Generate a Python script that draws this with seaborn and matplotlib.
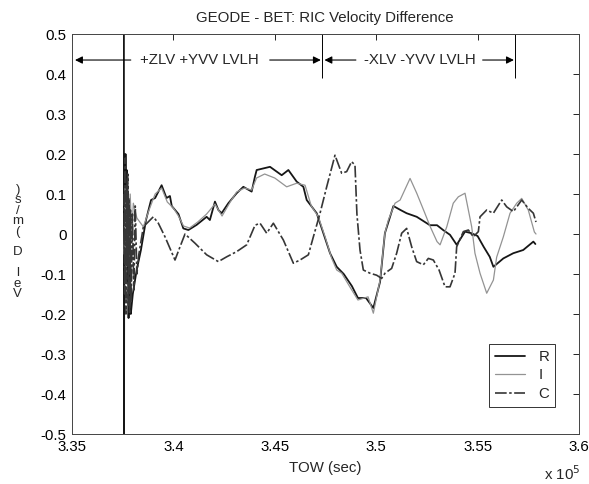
import numpy as np
import pandas as pd
import matplotlib
matplotlib.use('Agg')
import matplotlib.pyplot as plt
import seaborn as sns

# GPS time of week (sec) and RIC velocity differences (m/s)
r_tow = [337560, 337563, 337580, 337610, 337640, 337670, 337700, 337730, 337760, 337790,
         337820, 337850, 337900, 338000, 338190, 338400, 338650, 338900, 339100, 339420,
         339660, 339830, 339920, 340250, 340490, 340740, 341150, 341640, 341800, 342050,
         342220, 342380, 342710, 343120, 343450, 343860, 344020, 344107, 344765, 345341,
         345670, 346080, 346410, 346574, 347067, 347396, 347725, 348054, 348400, 348800,
         349100, 349500, 349860, 350190, 350430, 350850, 351200, 351500, 352000, 352650,
         353000, 353300, 353640, 353970, 354380, 354700, 355000, 355300, 355600, 355780,
         356270, 356760, 357250, 357750, 357850]
r_vel = [0.7, -0.7, 0.18, -0.10, 0.20, -0.02, 0.16, -0.12, 0.10, -0.21,
         0.05, -0.19, -0.20, -0.15, -0.09, -0.04, 0.035, 0.085, 0.09, 0.122,
         0.09, 0.095, 0.07, 0.05, 0.014, 0.01, 0.023, 0.043, 0.035, 0.081,
         0.06, 0.052, 0.077, 0.102, 0.118, 0.106, 0.143, 0.16, 0.168, 0.147,
         0.16, 0.131, 0.118, 0.085, 0.052, 0.002, -0.048, -0.082, -0.10, -0.13,
         -0.16, -0.16, -0.185, -0.12, 0.002, 0.07, 0.06, 0.052, 0.043, 0.022,
         0.022, 0.01, -0.002, -0.027, 0.006, 0.002, -0.005, -0.032, -0.057, -0.082,
         -0.061, -0.048, -0.04, -0.019, -0.025]

i_tow = [337570, 337620, 337680, 337740, 337800, 337870, 337950, 338025, 338200, 338520,
         338800, 339100, 339420, 339700, 340000, 340250, 340500, 340800, 341200, 341640,
         342050, 342400, 342800, 343120, 343500, 343860, 344100, 344500, 345000, 345587,
         346080, 346492, 346800, 347150, 347500, 347800, 348054, 348300, 348700, 349100,
         349600, 349860, 350190, 350430, 350600, 350930, 351180, 351670, 352000, 352400,
         352650, 353000, 353150, 353480, 353800, 354050, 354380, 354545, 354710, 354870,
         355120, 355450, 355780, 355940, 356270, 356600, 356930, 357175, 357500, 357800,
         357880]
i_vel = [-0.05, 0.12, -0.10, 0.14, -0.08, 0.10, 0.0, 0.077, 0.04, 0.018,
         0.06, 0.10, 0.115, 0.08, 0.065, 0.045, 0.02, 0.015, 0.03, 0.05,
         0.075, 0.045, 0.08, 0.105, 0.115, 0.11, 0.14, 0.15, 0.14, 0.118,
         0.127, 0.122, 0.07, 0.043, -0.01, -0.06, -0.09, -0.098, -0.132, -0.165,
         -0.157, -0.198, -0.115, 0.002, 0.035, 0.077, 0.085, 0.139, 0.102, 0.052,
         0.02, -0.019, -0.027, 0.018, 0.077, 0.093, 0.102, 0.06, 0.018, -0.048,
         -0.098, -0.148, -0.115, -0.058, -0.007, 0.052, 0.077, 0.089, 0.06, 0.005,
         0.0]

c_tow = [337570, 337600, 337630, 337660, 337690, 337720, 337750, 337780, 337810, 337840,
         337880, 337920, 337980, 338050, 338120, 338200, 338300, 338520, 339010, 339258,
         339587, 340080, 340327, 340573, 341066, 341641, 342217, 342628, 343122, 343615,
         344026, 344272, 344601, 344930, 345176, 345423, 345916, 346245, 346656, 346903,
         347232, 347560, 347969, 348297, 348544, 348790, 348955, 349050, 349202, 349366,
         349695, 350024, 350270, 350435, 350763, 351010, 351257, 351503, 351750, 351996,
         352325, 352572, 352818, 353100, 353394, 353640, 353887, 353969, 354298, 354545,
         354791, 355038, 355120, 355449, 355778, 356189, 356435, 356764, 357175, 357504,
         357750, 357880]
c_vel = [0.10, -0.15, 0.19, -0.20, 0.12, -0.08, 0.15, -0.18, 0.09, -0.20,
         0.06, -0.17, 0.05, -0.14, 0.07, -0.10, -0.05, 0.018, 0.043, 0.027,
         -0.007, -0.065, -0.032, 0.0, -0.023, -0.052, -0.069, -0.057, -0.044, -0.027,
         0.022, 0.027, 0.002, 0.027, 0.006, -0.015, -0.073, -0.065, -0.052, -0.007,
         0.052, 0.118, 0.197, 0.152, 0.156, 0.181, 0.172, 0.05, -0.04, -0.09,
         -0.098, -0.103, -0.111, -0.098, -0.086, -0.048, 0.002, 0.014, -0.032, -0.069,
         -0.077, -0.061, -0.065, -0.09, -0.132, -0.132, -0.098, -0.032, 0.006, 0.01,
         -0.007, 0.006, 0.043, 0.06, 0.052, 0.085, 0.068, 0.056, 0.085, 0.064,
         0.052, 0.03]

# attitude mode changes (TOW)
mode_bounds = [335000, 347330, 356850]
mode_names = ['+ZLV +YVV LVLH', '-XLV -YVV LVLH']

xticks = [335000, 340000, 345000, 350000, 355000, 360000]
xticklabels = ['3.35', '3.4', '3.45', '3.5', '3.55', '3.6']
yticks = [0.5, 0.4, 0.3, 0.2, 0.1, 0, -0.1, -0.2, -0.3, -0.4, -0.5]
yticklabels = ['0.5', '0.4', '0.3', '0.2', '0.1', '0', '-0.1', '-0.2', '-0.3', '-0.4', '-0.5']

sns.set_style('white')
plt.rcParams['font.family'] = ['Liberation Sans', 'DejaVu Sans']
fs = 10.8

fig = plt.figure(figsize=(5.89, 4.84), dpi=100)
ax = fig.add_axes([0.1222, 0.1033, 0.8608, 0.8264])

series = [('R', r_tow, r_vel, '#161616', 1.3, '-'),
          ('I', i_tow, i_vel, '#939393', 0.9, '-'),
          ('C', c_tow, c_vel, '#363636', 1.2, (0, (7, 1.5, 1.5, 1.5)))]
for name, tow, vel, col, lw, ls in series:
    df = pd.DataFrame({'tow': tow, 'vel': vel})
    sns.lineplot(data=df, x='tow', y='vel', ax=ax, color=col, lw=lw, linestyle=ls,
                 estimator=None, sort=False, label=name)

ax.set_xlim(335000, 360000)
ax.set_ylim(-0.5, 0.5)
ax.set_xticks(xticks)
ax.set_xticklabels(xticklabels, fontsize=fs)
ax.set_yticks(yticks)
ax.set_yticklabels(yticklabels, fontsize=fs)
ax.tick_params(direction='in', length=4, width=0.6, top=True, right=True, pad=4, colors='k')
for sp in ax.spines.values():
    sp.set_color('#444444')
    sp.set_linewidth(0.7)
ax.set_xlabel('')
ax.set_ylabel('')

# mode annotations
ax.vlines(mode_bounds[1:], 0.39, 0.5, color='k', lw=0.7)
arrow = dict(arrowstyle='-|>', color='k', lw=0.8, mutation_scale=11, shrinkA=0, shrinkB=0)
ay = 0.435
ax.annotate('', xy=(335150, ay), xytext=(337900, ay), arrowprops=arrow)
ax.annotate('', xy=(mode_bounds[1] - 60, ay), xytext=(344750, ay), arrowprops=arrow)
ax.annotate('', xy=(mode_bounds[1] + 120, ay), xytext=(349000, ay), arrowprops=arrow)
ax.annotate('', xy=(mode_bounds[2] - 60, ay), xytext=(355250, ay), arrowprops=arrow)
ax.text(341262, ay, mode_names[0], ha='center', va='center', fontsize=fs)
ax.text(352160, ay, mode_names[1], ha='center', va='center', fontsize=fs)

leg = ax.legend(loc='lower right', bbox_to_anchor=(0.953, 0.068), borderaxespad=0,
                fontsize=fs, fancybox=False, framealpha=1, handlelength=2.0,
                labelspacing=0.3, borderpad=0.4, handletextpad=0.9)
leg.get_frame().set_edgecolor('#333333')
leg.get_frame().set_linewidth(0.7)

fig.text(0.552, 0.962, 'GEODE - BET: RIC Velocity Difference', ha='center', va='center', fontsize=fs)
fig.text(0.552, 0.033, 'TOW (sec)', ha='center', va='center', fontsize=fs)
fig.text(0.985, 0.022, r'x 10$^5$', ha='right', va='center', fontsize=fs)

ylab = 'Vel D (m/s)'
fig.text(0.03, 0.5, '\n'.join(reversed(ylab)), ha='center', va='center', fontsize=9.5, linespacing=0.82)

fig.savefig('out.png', dpi=100)
